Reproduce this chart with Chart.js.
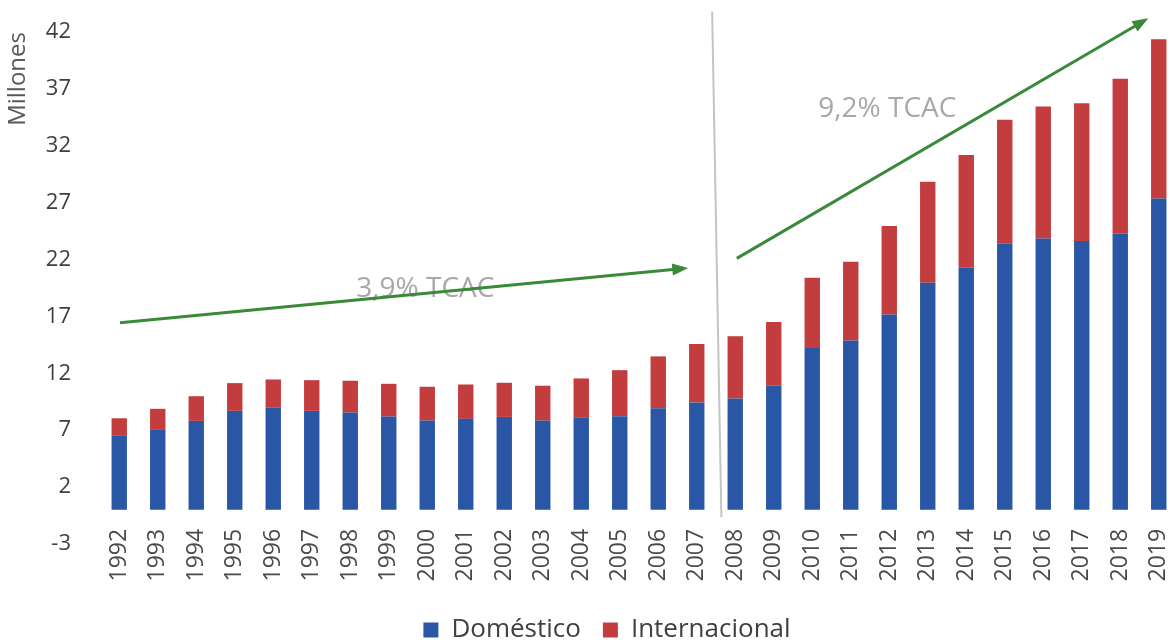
<!DOCTYPE html>
<html>
<head>
<meta charset="utf-8">
<script src="https://cdn.jsdelivr.net/npm/chart.js@4.4.1/dist/chart.umd.min.js"></script>
<style>
  html, body { margin: 0; padding: 0; background: #fff; overflow: hidden; }
  #wrap { width: 1178px; height: 642px; }
</style>
</head>
<body>
<div id="wrap"><canvas id="chart"></canvas></div>
<script>
const years = ['1992', '1993', '1994', '1995', '1996', '1997', '1998', '1999', '2000', '2001',
    '2002', '2003', '2004', '2005', '2006', '2007', '2008', '2009', '2010', '2011',
    '2012', '2013', '2014', '2015', '2016', '2017', '2018', '2019'];

// millones de pasajeros
const domestico = [6.50, 7.08, 7.82, 8.70, 8.99, 8.70, 8.55, 8.20, 7.85, 8.00,
    8.17, 7.85, 8.14, 8.23, 8.93, 9.44, 9.79, 10.91, 14.22, 14.88,
    17.17, 19.96, 21.28, 23.40, 23.84, 23.63, 24.28, 27.36];
const internacional = [1.55, 1.80, 2.17, 2.44, 2.47, 2.70, 2.80, 2.88, 2.97, 3.02,
    3.00, 3.06, 3.41, 4.05, 4.56, 5.14, 5.47, 5.61, 6.18, 6.93,
    7.79, 8.88, 9.91, 10.88, 11.61, 12.11, 13.61, 14.00];

const yTickValues = [-3, 2, 7, 12, 17, 22, 27, 32, 37, 42];

// anotaciones en unidades de datos: [índice de categoría, valor]
const dividerLine = [[15.4, 43.8], [15.64, -0.66]];
const arrow1 = [[0.02, 16.44], [14.78, 21.26]];
const arrow2 = [[16.04, 22.1], [26.73, 43.2]];
const tcacLabels = ['3,9% TCAC', '9,2% TCAC'];
const tcacPos = [[7.95, 19.4], [19.95, 35.25]];

const overlay = {
    id: 'overlay',
    afterDatasetsDraw(chart) {
        const { ctx, scales: { x, y } } = chart;
        const px = p => [x.getPixelForValue(p[0]), y.getPixelForValue(p[1])];
        ctx.save();

        // linea divisoria
        const d0 = px(dividerLine[0]), d1 = px(dividerLine[1]);
        ctx.strokeStyle = '#c4c4c4';
        ctx.lineWidth = 2;
        ctx.beginPath();
        ctx.moveTo(d0[0], d0[1]);
        ctx.lineTo(d1[0], d1[1]);
        ctx.stroke();

        // textos TCAC
        ctx.fillStyle = '#a8a8a8';
        ctx.font = '28px "Open Sans"';
        ctx.textAlign = 'center';
        ctx.textBaseline = 'middle';
        tcacLabels.forEach((t, i) => {
            const p = px(tcacPos[i]);
            ctx.fillText(t, p[0], p[1]);
        });

        // flechas
        [arrow1, arrow2].forEach(a => {
            const s = px(a[0]), e = px(a[1]);
            const ang = Math.atan2(e[1] - s[1], e[0] - s[0]);
            const head = 16;
            ctx.strokeStyle = '#3b8a3a';
            ctx.fillStyle = '#3b8a3a';
            ctx.lineWidth = 3;
            ctx.beginPath();
            ctx.moveTo(s[0], s[1]);
            ctx.lineTo(e[0] - Math.cos(ang) * head * 0.8, e[1] - Math.sin(ang) * head * 0.8);
            ctx.stroke();
            ctx.beginPath();
            ctx.moveTo(e[0], e[1]);
            ctx.lineTo(e[0] - head * Math.cos(ang) + 6 * Math.sin(ang), e[1] - head * Math.sin(ang) - 6 * Math.cos(ang));
            ctx.lineTo(e[0] - head * Math.cos(ang) - 6 * Math.sin(ang), e[1] - head * Math.sin(ang) + 6 * Math.cos(ang));
            ctx.closePath();
            ctx.fill();
        });
        ctx.restore();
    }
};

new Chart(document.getElementById('chart').getContext('2d'), {
    type: 'bar',
    data: {
        labels: years,
        datasets: [{
            label: 'Doméstico',
            data: domestico,
            backgroundColor: '#2a57a5',
            barPercentage: 0.4,
            categoryPercentage: 1
        }, {
            label: 'Internacional',
            data: internacional,
            backgroundColor: '#c33d3e',
            barPercentage: 0.4,
            categoryPercentage: 1
        }]
    },
    options: {
        responsive: true,
        maintainAspectRatio: false,
        animation: false,
        layout: { padding: { left: 36, top: 32, right: 0, bottom: -11 } },
        plugins: {
            tooltip: { enabled: false },
            legend: {
                position: 'bottom',
                labels: {
                    boxWidth: 15,
                    boxHeight: 15,
                    padding: 22,
                    color: '#404040',
                    font: { family: '"Open Sans"', size: 26 }
                }
            }
        },
        scales: {
            x: {
                stacked: true,
                position: { y: 0 },
                grid: { display: false, drawTicks: false },
                border: { display: false },
                afterFit: s => { s.paddingLeft = 0; s.paddingRight = 0; },
                ticks: {
                    autoSkip: false,
                    maxRotation: 90,
                    minRotation: 90,
                    padding: 19,
                    color: '#4a4a4a',
                    font: { family: '"Open Sans"', size: 23 }
                }
            },
            // eje vacío que reserva el espacio de las etiquetas
            xSpace: {
                type: 'category',
                position: 'bottom',
                grid: { display: false, drawTicks: false },
                border: { display: false },
                ticks: { display: false },
                afterFit: s => { s.height = 51; s.paddingLeft = 0; s.paddingRight = 0; }
            },
            y: {
                stacked: true,
                min: -3,
                max: 42,
                afterBuildTicks: s => { s.ticks = yTickValues.map(v => ({ value: v })); },
                afterFit: s => { s.width = 64; s.paddingTop = 0; s.paddingBottom = 0; },
                grid: { display: false, drawTicks: false },
                border: { display: false },
                ticks: {
                    padding: 29,
                    color: '#404040',
                    font: { family: '"Open Sans"', size: 22 }
                },
                title: {
                    display: true,
                    text: 'Millones',
                    align: 'end',
                    color: '#595959',
                    padding: { top: -32, bottom: 0 },
                    font: { family: '"Open Sans"', size: 24 }
                }
            }
        }
    },
    plugins: [overlay]
});
</script>
</body>
</html>
